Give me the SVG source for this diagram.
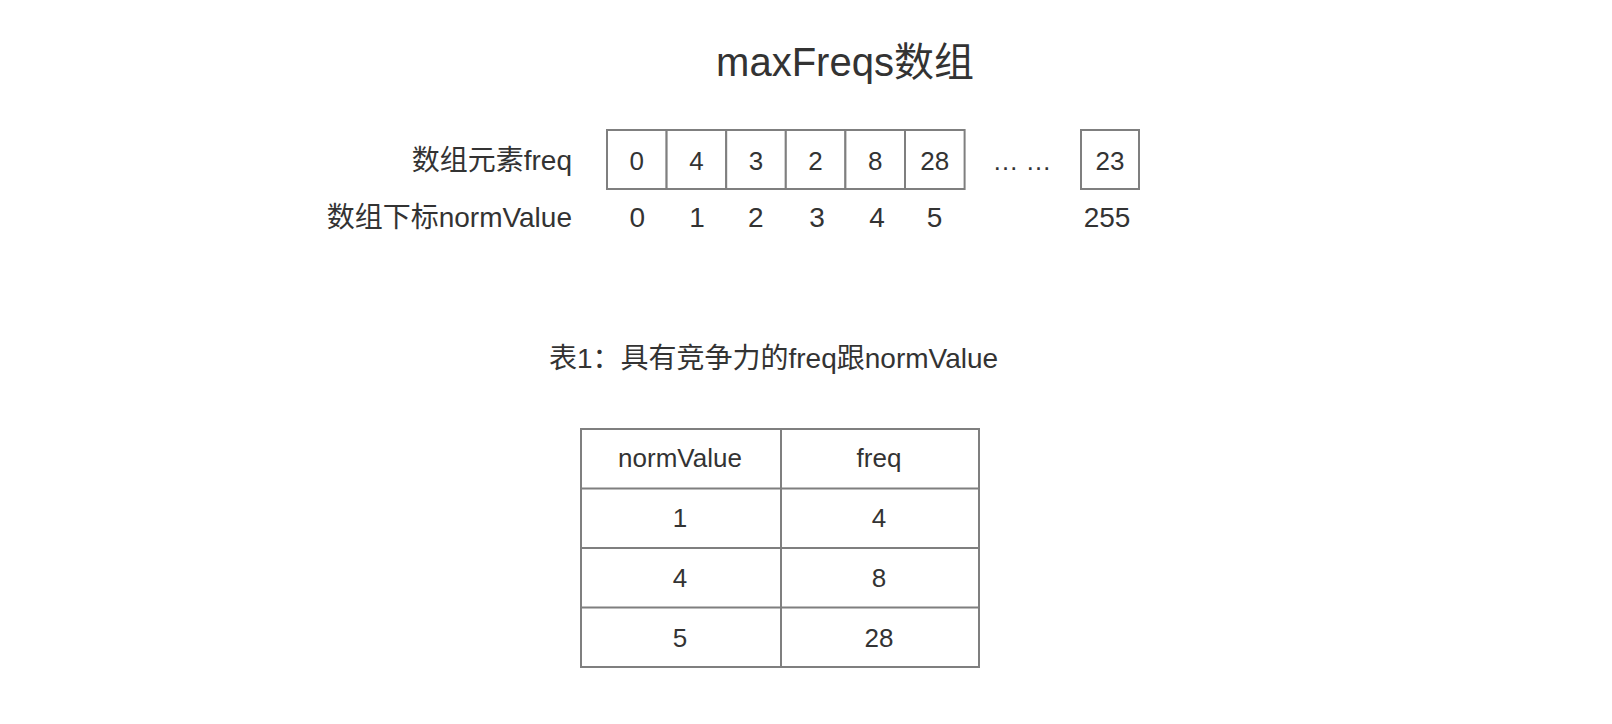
<svg xmlns="http://www.w3.org/2000/svg" width="1612" height="724" viewBox="0 0 1612 724">
<style>
.t{font-family:"Liberation Sans","Noto Sans CJK SC",sans-serif;fill:#333333;}
.c{text-anchor:middle;}
.r{text-anchor:end;}
.cell{fill:#ffffff;stroke:#7f7f7f;stroke-width:2;}
.ln{stroke:#7f7f7f;stroke-width:2;fill:none;}
</style>
<rect width="1612" height="724" fill="#ffffff"/>
<g id="title"><text class="t c" x="845" y="76" font-size="40">maxFreqs数组</text></g>
<g id="row-labels">
<text class="t r" x="572" y="170" font-size="28">数组元素freq</text>
<text class="t r" x="572" y="227" font-size="28">数组下标normValue</text>
</g>
<g id="array">
<rect class="cell" x="607" y="130" width="59.6" height="59"/>
<rect class="cell" x="666.6" y="130" width="59.6" height="59"/>
<rect class="cell" x="726.2" y="130" width="59.6" height="59"/>
<rect class="cell" x="785.8" y="130" width="59.6" height="59"/>
<rect class="cell" x="845.4" y="130" width="59.6" height="59"/>
<rect class="cell" x="905" y="130" width="59.6" height="59"/>
<rect class="cell" x="1081" y="130" width="58" height="59"/>
<g font-size="26">
<text class="t c" x="636.8" y="170">0</text>
<text class="t c" x="696.4" y="170">4</text>
<text class="t c" x="756" y="170">3</text>
<text class="t c" x="815.6" y="170">2</text>
<text class="t c" x="875.2" y="170">8</text>
<text class="t c" x="934.8" y="170">28</text>
<text class="t c" x="1022" y="170">… …</text>
<text class="t c" x="1110" y="170">23</text>
</g>
<g font-size="28">
<text class="t c" x="637.4" y="227">0</text>
<text class="t c" x="697" y="227">1</text>
<text class="t c" x="755.8" y="227">2</text>
<text class="t c" x="817" y="227">3</text>
<text class="t c" x="877" y="227">4</text>
<text class="t c" x="934.6" y="227">5</text>
<text class="t c" x="1107" y="227">255</text>
</g>
</g>
<g id="caption"><text class="t c" x="773.5" y="368" font-size="28">表1：具有竞争力的freq跟normValue</text></g>
<g id="table">
<rect class="ln" x="581" y="429" width="398" height="238"/>
<line class="ln" x1="781" y1="429" x2="781" y2="667"/>
<line class="ln" x1="581" y1="488.5" x2="979" y2="488.5"/>
<line class="ln" x1="581" y1="548" x2="979" y2="548"/>
<line class="ln" x1="581" y1="607.5" x2="979" y2="607.5"/>
<g font-size="26">
<text class="t c" x="680" y="467">normValue</text>
<text class="t c" x="879" y="467">freq</text>
<text class="t c" x="680" y="527">1</text>
<text class="t c" x="879" y="527">4</text>
<text class="t c" x="680" y="587">4</text>
<text class="t c" x="879" y="587">8</text>
<text class="t c" x="680" y="647">5</text>
<text class="t c" x="879" y="647">28</text>
</g>
</g>
</svg>
